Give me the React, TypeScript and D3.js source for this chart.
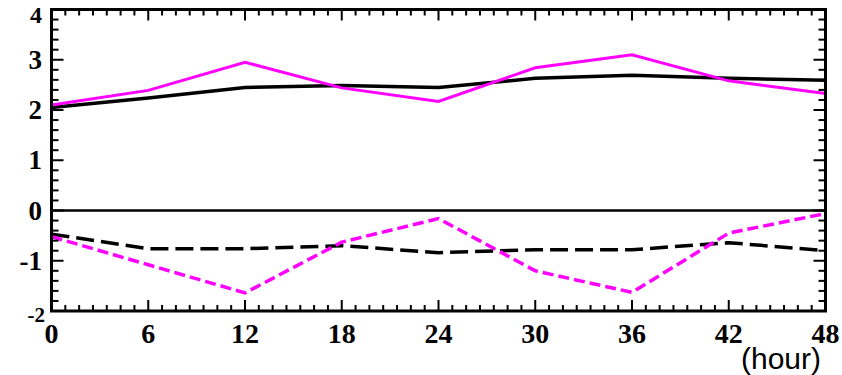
import React from 'react';
import * as d3 from 'd3';

// forecast hour
const hours = [0, 6, 12, 18, 24, 30, 36, 42, 48];

const blackSolid = [2.05, 2.24, 2.45, 2.49, 2.45, 2.63, 2.69, 2.63, 2.59];
const magentaSolid = [2.1, 2.39, 2.95, 2.44, 2.17, 2.84, 3.1, 2.58, 2.33];
const blackDashed = [-0.47, -0.76, -0.76, -0.7, -0.84, -0.78, -0.78, -0.64, -0.8];
const magentaDashed = [-0.52, -1.08, -1.64, -0.63, -0.16, -1.2, -1.63, -0.45, -0.06];

const xTicks = [0, 6, 12, 18, 24, 30, 36, 42, 48];
const yTicks = [4, 3, 2, 1, 0, -1, -2];

const W = 842;
const H = 375;
const left = 51.5, right = 825.5, top = 9.5, bottom = 311;

export default function App() {
  const x = d3.scaleLinear().domain([0, 48]).range([left, right]);
  const y = d3.scaleLinear().domain([-2, 4]).range([bottom, top]);

  const line = d3.line<number>()
    .x((d, i) => x(hours[i]))
    .y((d) => y(d));

  // 7 subdivisions between major x ticks, 5 between major y ticks
  const xMinor = d3.range(0, 7 * 8 + 1).map((i) => (i * 6) / 7);
  const yMinor = d3.range(0, 31).map((i) => -2 + i * 0.2);

  const serif = '"Liberation Serif", "Times New Roman", serif';

  return (
    <svg width={W} height={H} style={{ position: 'absolute', left: 0, top: 0, background: '#fff' }}>
      {/* zero line */}
      <line x1={left} x2={right} y1={y(0)} y2={y(0)} stroke="#000" strokeWidth={2.5} />

      {/* data */}
      <path d={line(blackDashed) || ''} fill="none" stroke="#000" strokeWidth={3.5} strokeDasharray="18,7" />
      <path d={line(magentaDashed) || ''} fill="none" stroke="#ff00ff" strokeWidth={3.5} strokeDasharray="11,5" />
      <path d={line(blackSolid) || ''} fill="none" stroke="#000" strokeWidth={3.5} />
      <path d={line(magentaSolid) || ''} fill="none" stroke="#ff00ff" strokeWidth={3} />

      {/* x ticks top/bottom */}
      {xMinor.map((v, i) => {
        const major = i % 7 === 0;
        const len = major ? 11 : 6;
        return (
          <g key={'xt' + i} stroke="#000" strokeWidth={2}>
            <line x1={x(v)} x2={x(v)} y1={bottom} y2={bottom - len} />
            <line x1={x(v)} x2={x(v)} y1={top} y2={top + len} />
          </g>
        );
      })}
      {/* y ticks left/right */}
      {yMinor.map((v, i) => {
        const major = i % 5 === 0;
        const len = major ? 12 : 7;
        return (
          <g key={'yt' + i} stroke="#000" strokeWidth={2}>
            <line x1={left} x2={left + len} y1={y(v)} y2={y(v)} />
            <line x1={right} x2={right - len} y1={y(v)} y2={y(v)} />
          </g>
        );
      })}

      {/* frame */}
      <rect x={left} y={top} width={right - left} height={bottom - top} fill="none" stroke="#000" strokeWidth={3} />

      {/* y labels */}
      {yTicks.map((t) => {
        if (t === -2) {
          return (
            <text key={'yl' + t} x={45} y={322} textAnchor="end" fontFamily={serif} fontWeight="bold" fontSize={21}>
              -2
            </text>
          );
        }
        if (t === 4) {
          return (
            <text key={'yl' + t} x={42} y={23} textAnchor="end" fontFamily={serif} fontWeight="bold" fontSize={24}>
              4
            </text>
          );
        }
        return (
          <text key={'yl' + t} x={42} y={y(t) + 9} textAnchor="end" fontFamily={serif} fontWeight="bold" fontSize={27}>
            {t}
          </text>
        );
      })}

      {/* x labels */}
      {xTicks.map((t) => (
        <text key={'xl' + t} x={x(t)} y={343} textAnchor="middle" fontFamily={serif} fontWeight="bold" fontSize={28}>
          {t}
        </text>
      ))}

      <text x={741} y={369} fontFamily='"Liberation Sans", Arial, sans-serif' fontSize={30}>
        (hour)
      </text>
    </svg>
  );
}
